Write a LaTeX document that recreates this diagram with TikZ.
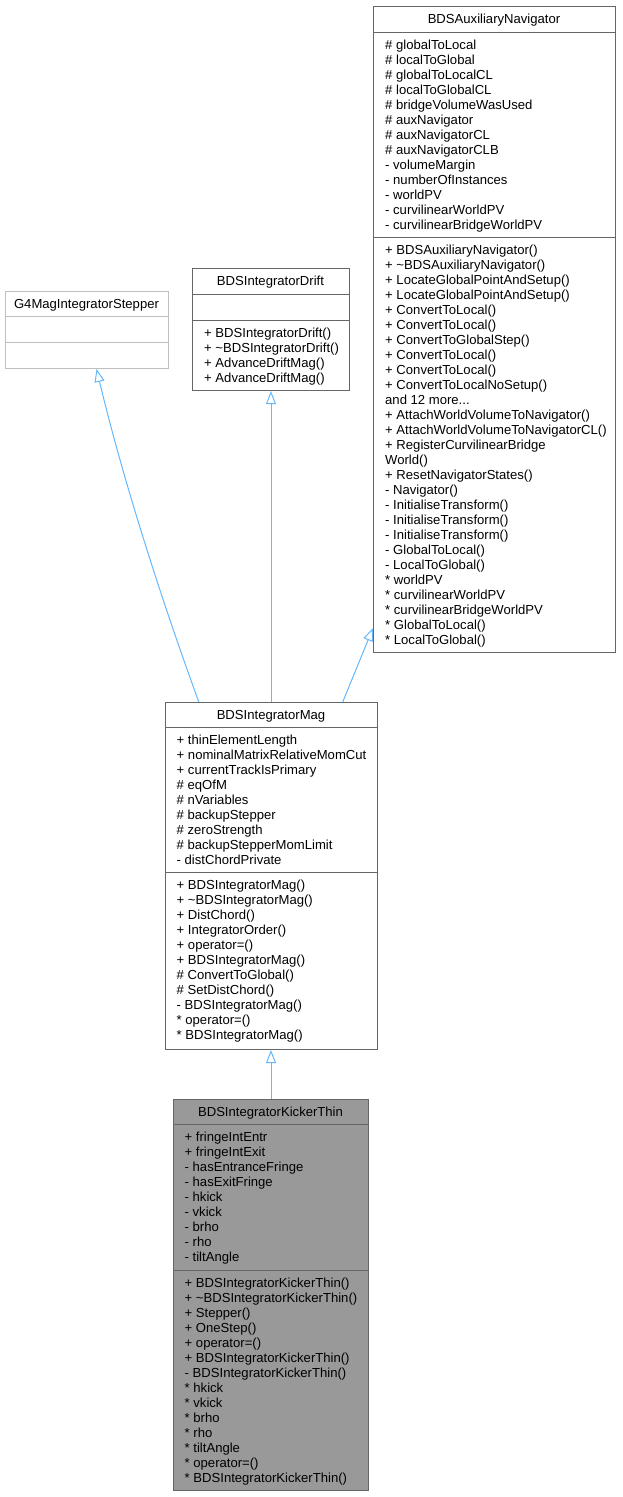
\documentclass[tikz,border=0pt]{standalone}
\usepackage{fontspec}
\setmainfont{Liberation Sans}
\usetikzlibrary{arrows.meta}
\definecolor{edgeblue}{HTML}{63B8FF}
\definecolor{boxline}{HTML}{666666}
\definecolor{lightline}{HTML}{BFBFBF}
\definecolor{kickfill}{HTML}{999999}
\newcommand\umlmembers[4]{\foreach \t [count=\i] in {#4} {\node[member] (#1-\i) at (#2,{#3+15*(\i-1)+4.7}) {\t};}}
\newcommand\mydots{.{}.{}.}
\begin{document}
\begin{tikzpicture}[x=1pt,y=-1pt,
  member/.style={anchor=base west, inner sep=0pt, font=\fontsize{13.1}{15}\selectfont},
  ttl/.style={anchor=base, inner sep=0pt, font=\fontsize{13.1}{15}\selectfont},
  classbox/.style={draw=boxline, line width=1pt, fill=white, inner sep=0pt, anchor=north west},
  sepline/.style={draw=boxline, line width=1pt},
  inherit/.style={draw=edgeblue, line width=1pt, -{Triangle[open,length=13pt,width=10pt]}}]
\useasboundingbox (0,0) rectangle (622,1497);

% BDSAuxiliaryNavigator
\node[classbox, minimum width=242pt, minimum height=646pt] (aux) at (373,6) {};
\draw[sepline] (373,32) -- (615,32);
\draw[sepline] (373,237) -- (615,237);
\node[ttl] (aux-title) at (494,23.7) {BDSAuxiliaryNavigator};
\umlmembers{auxa}{385}{44.5}{\# globalToLocal,\# localToGlobal,\# globalToLocalCL,\# localToGlobalCL,\# bridgeVolumeWasUsed,\# auxNavigator,\# auxNavigatorCL,\# auxNavigatorCLB,- volumeMargin,- numberOfInstances,- worldPV,- curvilinearWorldPV,- curvilinearBridgeWorldPV}
\umlmembers{auxm}{385}{249.5}{+ BDSAuxiliaryNavigator(),+ \textasciitilde BDSAuxiliaryNavigator(),+ LocateGlobalPointAndSetup(),+ LocateGlobalPointAndSetup(),+ ConvertToLocal(),+ ConvertToLocal(),+ ConvertToGlobalStep(),+ ConvertToLocal(),+ ConvertToLocal(),+ ConvertToLocalNoSetup(),and 12 more\mydots,+ AttachWorldVolumeToNavigator(),+ AttachWorldVolumeToNavigatorCL(),+ RegisterCurvilinearBridge,World(),+ ResetNavigatorStates(),- Navigator(),- InitialiseTransform(),- InitialiseTransform(),- InitialiseTransform(),- GlobalToLocal(),- LocalToGlobal(),* worldPV,* curvilinearWorldPV,* curvilinearBridgeWorldPV,* GlobalToLocal(),* LocalToGlobal()}

% G4MagIntegratorStepper
\node[classbox, draw=lightline, minimum width=163pt, minimum height=77pt] (g4) at (5,291) {};
\draw[sepline, draw=lightline] (5,316.5) -- (168,316.5);
\draw[sepline, draw=lightline] (5,342) -- (168,342);
\node[ttl] (g4-title) at (86.5,308.7) {G4MagIntegratorStepper};

% BDSIntegratorDrift
\node[classbox, minimum width=157pt, minimum height=122pt] (drift) at (192,268) {};
\draw[sepline] (192,294) -- (349,294);
\draw[sepline] (192,320) -- (349,320);
\node[ttl] (drift-title) at (270.5,285.7) {BDSIntegratorDrift};
\umlmembers{driftm}{204}{332.5}{+ BDSIntegratorDrift(),+ \textasciitilde BDSIntegratorDrift(),+ AdvanceDriftMag(),+ AdvanceDriftMag()}

% BDSIntegratorMag
\node[classbox, minimum width=212pt, minimum height=347pt] (mag) at (165,702) {};
\draw[sepline] (165,727.5) -- (377,727.5);
\draw[sepline] (165,872.5) -- (377,872.5);
\node[ttl] (mag-title) at (271,719.7) {BDSIntegratorMag};
\umlmembers{maga}{176.5}{740}{+ thinElementLength,+ nominalMatrixRelativeMomCut,+ currentTrackIsPrimary,\# eqOfM,\# nVariables,\# backupStepper,\# zeroStrength,\# backupStepperMomLimit,- distChordPrivate}
\umlmembers{magm}{176.5}{885}{+ BDSIntegratorMag(),+ \textasciitilde BDSIntegratorMag(),+ DistChord(),+ IntegratorOrder(),+ operator=(),+ BDSIntegratorMag(),\# ConvertToGlobal(),\# SetDistChord(),- BDSIntegratorMag(),* operator=(),* BDSIntegratorMag()}

% BDSIntegratorKickerThin
\node[classbox, fill=kickfill, minimum width=195pt, minimum height=391pt] (kicker) at (173,1099) {};
\draw[sepline] (173,1124) -- (368,1124);
\draw[sepline] (173,1270) -- (368,1270);
\node[ttl] (kicker-title) at (270.5,1116.2) {BDSIntegratorKickerThin};
\umlmembers{kicka}{184.5}{1136.5}{+ fringeIntEntr,+ fringeIntExit,- hasEntranceFringe,- hasExitFringe,- hkick,- vkick,- brho,- rho,- tiltAngle}
\umlmembers{kickm}{184.5}{1282.5}{+ BDSIntegratorKickerThin(),+ \textasciitilde BDSIntegratorKickerThin(),+ Stepper(),+ OneStep(),+ operator=(),+ BDSIntegratorKickerThin(),- BDSIntegratorKickerThin(),* hkick,* vkick,* brho,* rho,* tiltAngle,* operator=(),* BDSIntegratorKickerThin()}

% inheritance edges
\coordinate (g4tip) at ([xshift=9.5pt]g4.south);
\draw[inherit] ([xshift=-72.7pt]mag.north) .. controls (158.7,591.7) and (122.4,477) .. (g4tip);
\draw[inherit] (drift.south |- mag.north) -- (drift.south);
\draw[inherit] ([xshift=-35.3pt]mag.north east) -- ([yshift=25pt]aux.south west);
\draw[inherit] (kicker.north) -- (kicker.north |- mag.south);
\end{tikzpicture}
\end{document}
